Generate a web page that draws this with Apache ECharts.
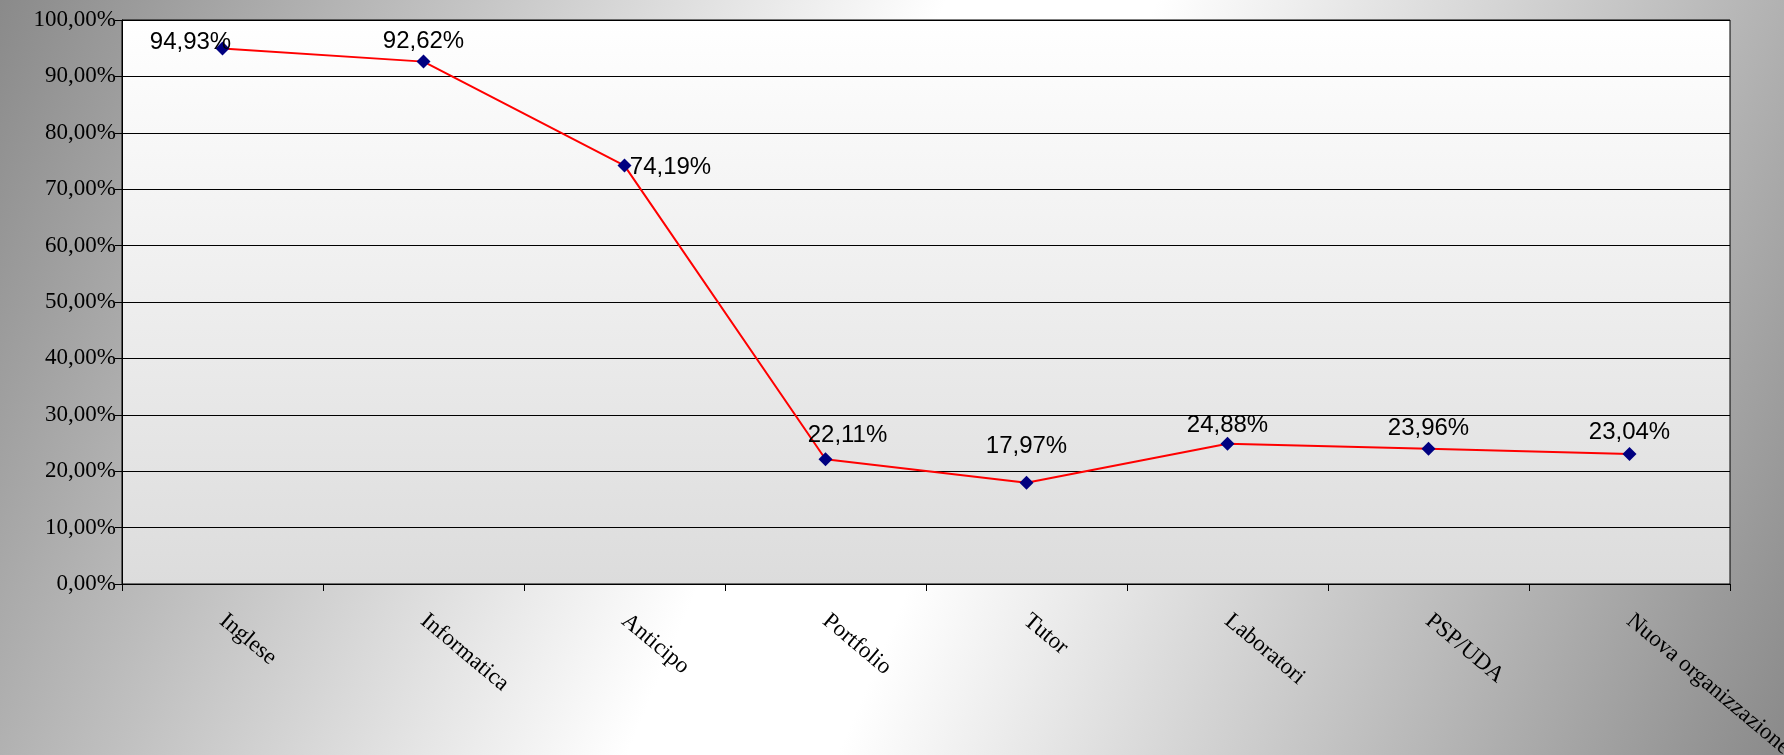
<!DOCTYPE html>
<html><head><meta charset="utf-8">
<script src="https://cdn.jsdelivr.net/npm/echarts@6/dist/echarts.min.js"></script>
<style>html,body{margin:0;padding:0}#c{width:1784px;height:755px}</style>
</head><body><div id="c"></div>
<script>
var categories = ['Inglese','Informatica','Anticipo','Portfolio','Tutor','Laboratori','PSP/UDA','Nuova organizzazione'];
var values = [94.93, 92.62, 74.19, 22.11, 17.97, 24.88, 23.96, 23.04];
var labelOffsets = [[-32,18],[0,4],[46,26],[22,0],[0,-12],[0,6],[0,4],[0,2]];

var myChart = echarts.init(document.getElementById('c'));
var fmt = function (v) { return v.toFixed(2).replace('.', ',') + '%'; };
option = {
    backgroundColor: {
        type: 'linear', x: 0, y: 0, x2: 1, y2: 1,
        colorStops: [
            {offset: 0, color: '#8a8a8a'},
            {offset: 0.45, color: '#ffffff'},
            {offset: 0.55, color: '#ffffff'},
            {offset: 1, color: '#8a8a8a'}
        ]
    },
    grid: {
        left: 122, right: 54, top: 20, bottom: 171,
        outerBoundsMode: 'none', containLabel: false,
        show: true, borderColor: '#000', borderWidth: 1,
        backgroundColor: {
            type: 'linear', x: 0, y: 0, x2: 0, y2: 1,
            colorStops: [{offset: 0, color: '#ffffff'}, {offset: 1, color: '#dcdcdc'}]
        }
    },
    xAxis: {
        type: 'category',
        data: categories,
        axisLine: {lineStyle: {color: '#000'}},
        axisTick: {show: true, length: 7, lineStyle: {color: '#000'}},
        axisLabel: {
            rotate: -40, margin: 34, color: '#000',
            fontFamily: 'Liberation Serif', fontSize: 23, interval: 0
        }
    },
    yAxis: {
        type: 'value', min: 0, max: 100, interval: 10,
        axisLine: {show: true, lineStyle: {color: '#000'}},
        axisTick: {show: true, length: 7, lineStyle: {color: '#000'}},
        splitLine: {lineStyle: {color: '#000', width: 1}},
        axisLabel: {
            color: '#000', fontFamily: 'Liberation Serif', fontSize: 23, margin: 6,
            formatter: function (v) { return v.toFixed(2).replace('.', ',') + '%'; }
        }
    },
    series: [{
        type: 'line',
        data: values.map(function (v, i) {
            return {value: v, label: {offset: labelOffsets[i]}};
        }),
        symbol: 'diamond', symbolSize: 14,
        itemStyle: {color: '#000080'},
        lineStyle: {color: '#ff0000', width: 2},
        label: {
            show: true, position: 'top', color: '#000',
            fontFamily: 'Liberation Sans', fontSize: 24,
            formatter: function (p) { return fmt(p.value); }
        }
    }]
};
myChart.setOption(option);
</script>
</body></html>
